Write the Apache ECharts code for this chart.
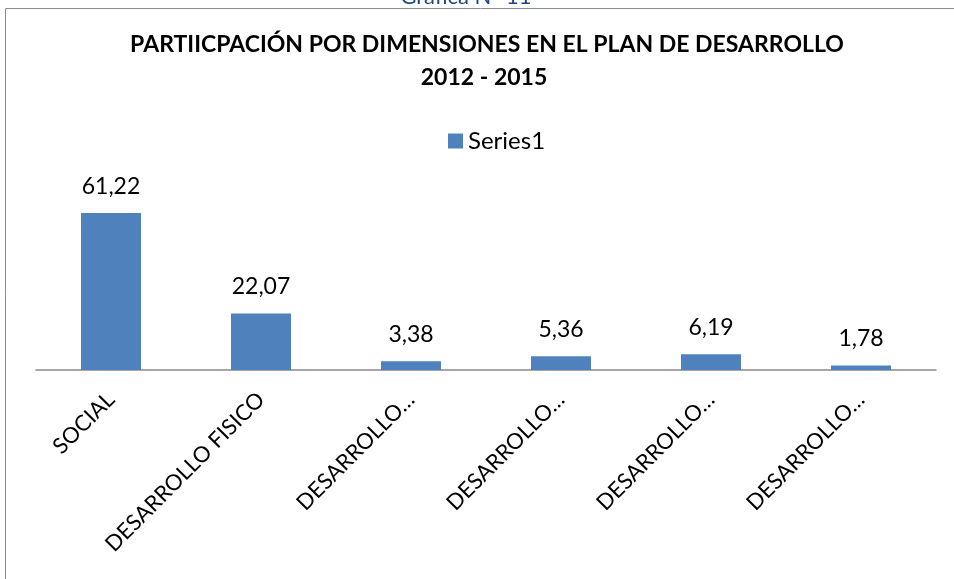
<!DOCTYPE html>
<html><head><meta charset="utf-8">
<script src="https://cdn.jsdelivr.net/npm/echarts@6/dist/echarts.min.js"></script>
<style>html,body{margin:0;padding:0;background:#fff}#c{width:954px;height:579px}</style>
</head><body><div id="c"></div>
<script>
const categories = ["SOCIAL", "DESARROLLO FISICO", "DESARROLLO…", "DESARROLLO…", "DESARROLLO…", "DESARROLLO…"];
const values = [61.22, 22.07, 3.38, 5.36, 6.19, 1.78];
const seriesName = "Series1";
const titleLines = ["PARTIICPACIÓN POR DIMENSIONES EN EL PLAN DE DESARROLLO", "2012 - 2015"];
const caption = "Grafica N° 11";

const font = "Lato, 'Open Sans', sans-serif";
const titleFont = 'bold 23px ' + font;
const chart = echarts.init(document.getElementById('c'));
chart.setOption({
  animation: false,
  graphic: [
    {type: 'rect', shape: {x: 5.5, y: 8.5, width: 1000, height: 700}, style: {fill: 'none', stroke: '#8c8c8c', lineWidth: 1}},
    {type: 'text', x: 466, y: 8, style: {text: caption, fill: '#1f497d', font: '22px ' + font, align: 'center', verticalAlign: 'bottom'}},
    {type: 'text', x: 487, y: 45, style: {text: titleLines[0], fill: '#000', font: titleFont, align: 'center', verticalAlign: 'middle'}},
    {type: 'text', x: 484, y: 78, style: {text: titleLines[1], fill: '#000', font: titleFont, align: 'center', verticalAlign: 'middle'}}
  ],
  legend: {
    top: 124, left: 443, itemWidth: 15, itemHeight: 15, itemGap: 6,
    textStyle: {fontFamily: font, fontSize: 24, color: '#000'},
    data: [{name: seriesName, icon: 'rect'}]
  },
  grid: {left: 36, right: 18, top: 190.5, bottom: 209, containLabel: false},
  xAxis: {
    type: 'category', data: categories,
    axisLine: {lineStyle: {color: '#898989', width: 1.5}},
    axisTick: {show: false},
    axisLabel: {rotate: 45, interval: 0, fontFamily: font, fontSize: 22, color: '#000', margin: 26}
  },
  yAxis: {type: 'value', min: 0, max: 70, show: false, splitLine: {show: false}},
  series: [{
    name: seriesName, type: 'bar', data: values, barWidth: 60,
    itemStyle: {color: '#4f81bd'},
    label: {show: true, position: 'top', distance: 15, fontFamily: font, fontSize: 23, color: '#000',
      formatter: p => p.value.toFixed(2).replace('.', ',')}
  }]
});
</script></body></html>
